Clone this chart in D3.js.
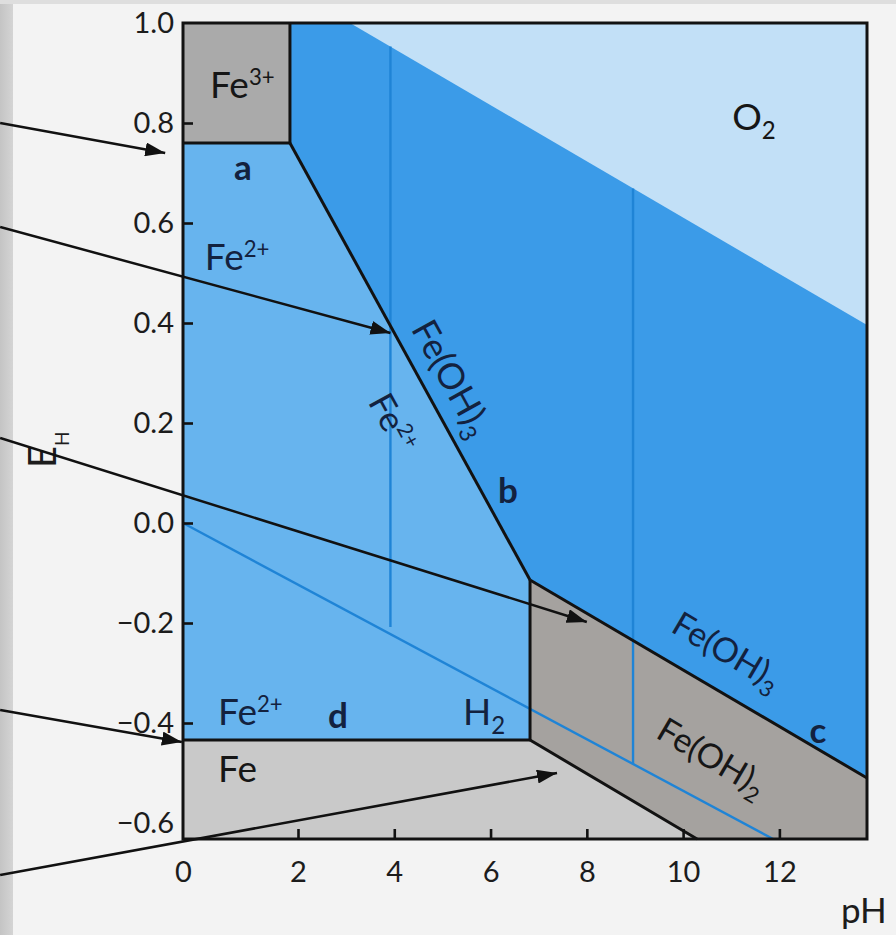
<!DOCTYPE html>
<html>
<head>
<meta charset="utf-8">
<script src="https://cdn.jsdelivr.net/npm/d3@7"></script>
<style>
  html, body { margin: 0; padding: 0; background: #f3f3f3; }
  svg { display: block; font-family: Lato, "Noto Sans", sans-serif; }
</style>
</head>
<body>
<svg id="chart" width="896" height="935"></svg>
<script>
// ---- Axis ticks ----
const phTicks = [0, 2, 4, 6, 8, 10, 12];
const phTickMarks = [2, 4, 6, 8, 10, 12];
const ehTicks = [-0.6, -0.4, -0.2, 0.0, 0.2, 0.4, 0.6, 0.8, 1.0];
const ehTickMarks = [-0.4, -0.2, 0.0, 0.2, 0.4, 0.6, 0.8];

// ---- Plot extent: pH and E_H (V) ----
const phMin = 0, phMax = 13.82;
const ehMin = -0.632, ehMax = 1.0;

// ---- Stability fields, polygons of [pH, E_H] ----
const fieldFeOH3 = [[1.86, 1.0], [13.82, 1.0], [13.82, -0.51], [6.82, -0.114], [1.86, 0.76]];
const fieldO2    = [[3.08, 1.0], [13.82, 1.0], [13.82, 0.396]];
const fieldFe3   = [[0, 1.0], [1.86, 1.0], [1.86, 0.76], [0, 0.76]];
const fieldFe2   = [[0, 0.76], [1.86, 0.76], [6.82, -0.114], [6.82, -0.434], [0, -0.434]];
const fieldFe    = [[0, -0.434], [6.82, -0.434], [10.29, -0.632], [0, -0.632]];
const fieldFeOH2 = [[6.82, -0.114], [13.82, -0.51], [13.82, -0.632], [10.29, -0.632], [6.82, -0.434]];

// ---- Field boundaries ----
const boundaryA        = [[0, 0.76], [1.86, 0.76]];
const boundaryFe3Edge  = [[1.86, 1.0], [1.86, 0.76]];
const boundaryB        = [[1.86, 0.76], [6.82, -0.114]];
const boundaryC        = [[6.82, -0.114], [13.82, -0.51]];
const boundaryD        = [[0, -0.434], [6.82, -0.434]];
const boundaryFe2FeOH2 = [[6.82, -0.114], [6.82, -0.434]];
const boundaryFeFeOH2  = [[6.82, -0.434], [10.29, -0.632]];

// ---- Water (H2) line and Fe2+ solubility verticals ----
const lineH2       = [[0, 0.0], [11.87, -0.632]];
const verticalFe2a = [[3.92, 0.953], [3.92, -0.208]];
const verticalFe2b = [[8.96, 0.669], [8.96, -0.482]];

// ---- Callout arrows, [pH, E_H] ----
const arrowFrom = [[-3.18, 0.80], [-3.18, 0.592], [-3.18, 0.17], [-3.18, -0.374], [-3.18, -0.704]];
const arrowTo   = [[-0.31, 0.74], [3.92, 0.38], [8.0, -0.198], [-0.02, -0.438], [7.38, -0.50]];

// ---- Labels ----
const fieldLabels = [
  { text: "Fe", sup: "3+", at: [0.47, 0.85],   field: "grey" },
  { text: "Fe", sup: "2+", at: [0.38, 0.506],  field: "blue" },
  { text: "Fe", sup: "2+", at: [0.61, -0.404], field: "blue" },
  { text: "Fe",            at: [0.61, -0.518], field: "grey" },
  { text: "O",  sub: "2",  at: [11.02, 0.786], field: "grey" },
  { text: "H",  sub: "2",  at: [5.43, -0.404], field: "blue" }
];
const letterLabels = [
  { text: "a", at: [1.04, 0.686] },
  { text: "b", at: [6.36, 0.04] },
  { text: "c", at: [12.80, -0.44] },
  { text: "d", at: [2.83, -0.41] }
];
const slopedLabels = [
  { text: "Fe(OH)", sub: "3",  at: [5.20, 0.29],    along: boundaryB, field: "blue", size: 36 },
  { text: "Fe",     sup: "2+", at: [3.97, 0.20],    along: boundaryB, field: "blue", size: 35 },
  { text: "Fe(OH)", sub: "3",  at: [10.91, -0.256], along: boundaryC, field: "blue", size: 34 },
  { text: "Fe(OH)", sub: "2",  at: [10.60, -0.468], along: boundaryC, field: "grey", size: 34 }
];

// ---- Scales ----
const x = d3.scaleLinear().domain([phMin, 2, phMax]).range([183, 298, 867]);
const y = d3.scaleLinear().domain([ehMin, ehMax]).range([839, 23]);

const svg = d3.select("#chart");
const line = d3.line().x(d => x(d[0])).y(d => y(d[1]));
const poly = pts => line(pts) + "Z";

const defs = svg.append("defs");
defs.append("marker")
  .attr("id", "arrowhead")
  .attr("viewBox", "0 0 10 10")
  .attr("refX", 10).attr("refY", 5)
  .attr("markerUnits", "userSpaceOnUse")
  .attr("markerWidth", 20).attr("markerHeight", 14)
  .attr("preserveAspectRatio", "none")
  .attr("orient", "auto")
  .append("path").attr("d", "M0,0L10,5L0,10Z").attr("fill", "#111");

const edge = defs.append("linearGradient").attr("id", "pageEdge");
edge.append("stop").attr("offset", "0%").attr("stop-color", "#c4c4c4");
edge.append("stop").attr("offset", "100%").attr("stop-color", "#d4d4d4");

// Page
svg.append("rect").attr("width", 896).attr("height", 935).attr("fill", "#f3f3f3");
svg.append("rect").attr("width", 13).attr("height", 935).attr("fill", "url(#pageEdge)");
svg.append("rect").attr("width", 896).attr("height", 4).attr("fill", "#dedede");

// Fields
const fieldFill = [
  [fieldFeOH3, "#3b9be8"],
  [fieldO2,    "#c2e0f7"],
  [fieldFe2,   "#67b4ee"],
  [fieldFe3,   "#aaaaaa"],
  [fieldFe,    "#c9c9c9"],
  [fieldFeOH2, "#a5a29f"]
];
svg.append("g").selectAll("path").data(fieldFill).join("path")
  .attr("d", d => poly(d[0]))
  .attr("fill", d => d[1]);

// Thin blue lines
svg.append("g").selectAll("path").data([lineH2, verticalFe2a, verticalFe2b]).join("path")
  .attr("d", line)
  .attr("fill", "none")
  .attr("stroke", "#1f84d6")
  .attr("stroke-width", 2.4);

// Black boundaries
svg.append("g").selectAll("path")
  .data([boundaryA, boundaryFe3Edge, boundaryB, boundaryC, boundaryD, boundaryFe2FeOH2, boundaryFeFeOH2])
  .join("path")
  .attr("d", line)
  .attr("fill", "none")
  .attr("stroke", "#121212")
  .attr("stroke-width", 3)
  .attr("stroke-linejoin", "miter");

// Frame
svg.append("rect")
  .attr("x", x(phMin)).attr("y", y(ehMax))
  .attr("width", x(phMax) - x(phMin)).attr("height", y(ehMin) - y(ehMax))
  .attr("fill", "none").attr("stroke", "#121212").attr("stroke-width", 3);

// Axes
const styleAxis = g => {
  g.select(".domain").remove();
  g.selectAll("line").attr("stroke", "#121212").attr("stroke-width", 2.6);
  g.selectAll("text").attr("font-size", 29).attr("fill", "#1c1c1c")
    .attr("font-family", "Lato, 'Noto Sans', sans-serif");
};
svg.append("g").attr("transform", `translate(${x(phMin)},0)`)
  .call(d3.axisLeft(y).tickValues(ehTicks).tickSize(0).tickPadding(9).tickFormat(d3.format(".1f")))
  .call(styleAxis);
svg.append("g").attr("transform", `translate(${x(phMin)},0)`)
  .call(d3.axisLeft(y).tickValues(ehTickMarks).tickSize(-10).tickFormat(""))
  .call(styleAxis);
svg.append("g").attr("transform", `translate(0,${y(ehMin)})`)
  .call(d3.axisBottom(x).tickValues(phTicks).tickSize(0).tickPadding(22).tickFormat(d3.format("d")))
  .call(styleAxis);
svg.append("g").attr("transform", `translate(0,${y(ehMin)})`)
  .call(d3.axisBottom(x).tickValues(phTickMarks).tickSize(-10).tickFormat(""))
  .call(styleAxis);

// Axis titles
const eh = svg.append("text")
  .attr("transform", "translate(56,468) rotate(-90)")
  .attr("font-size", 38).attr("fill", "#1c1c1c");
eh.append("tspan").text("E");
eh.append("tspan").attr("font-size", 19).attr("dy", 13).text("H");

svg.append("text").attr("x", 841).attr("y", 923)
  .attr("font-size", 35).attr("fill", "#1c1c1c").text("pH");

// Labels
const inkFor = f => f === "blue" ? "#13223f" : "#161616";
function labelText(sel, lab, size) {
  sel.append("tspan").text(lab.text);
  if (lab.sup) sel.append("tspan").attr("font-size", size * 0.6).attr("dy", -size * 0.36).text(lab.sup);
  if (lab.sub) sel.append("tspan").attr("font-size", size * 0.65).attr("dy", size * 0.24).text(lab.sub);
}

fieldLabels.forEach(lab => {
  const t = svg.append("text")
    .attr("x", x(lab.at[0])).attr("y", y(lab.at[1]))
    .attr("font-size", 37).attr("fill", inkFor(lab.field));
  labelText(t, lab, 37);
});

letterLabels.forEach(lab => {
  svg.append("text")
    .attr("x", x(lab.at[0])).attr("y", y(lab.at[1]))
    .attr("text-anchor", "middle")
    .attr("font-size", 35).attr("font-weight", 700).attr("fill", "#13223f")
    .text(lab.text);
});

slopedLabels.forEach(lab => {
  const a = lab.along[0], b = lab.along[lab.along.length - 1];
  const ang = Math.atan2(y(b[1]) - y(a[1]), x(b[0]) - x(a[0])) * 180 / Math.PI;
  const t = svg.append("text")
    .attr("transform", `translate(${x(lab.at[0])},${y(lab.at[1])}) rotate(${ang})`)
    .attr("text-anchor", "middle")
    .attr("dy", "0.35em")
    .attr("font-size", lab.size).attr("fill", inkFor(lab.field));
  labelText(t, lab, lab.size);
});

// Callout arrows
svg.append("g").selectAll("path").data(d3.zip(arrowFrom, arrowTo)).join("path")
  .attr("d", line)
  .attr("fill", "none")
  .attr("stroke", "#111")
  .attr("stroke-width", 2.5)
  .attr("marker-end", "url(#arrowhead)");
</script>
</body>
</html>
